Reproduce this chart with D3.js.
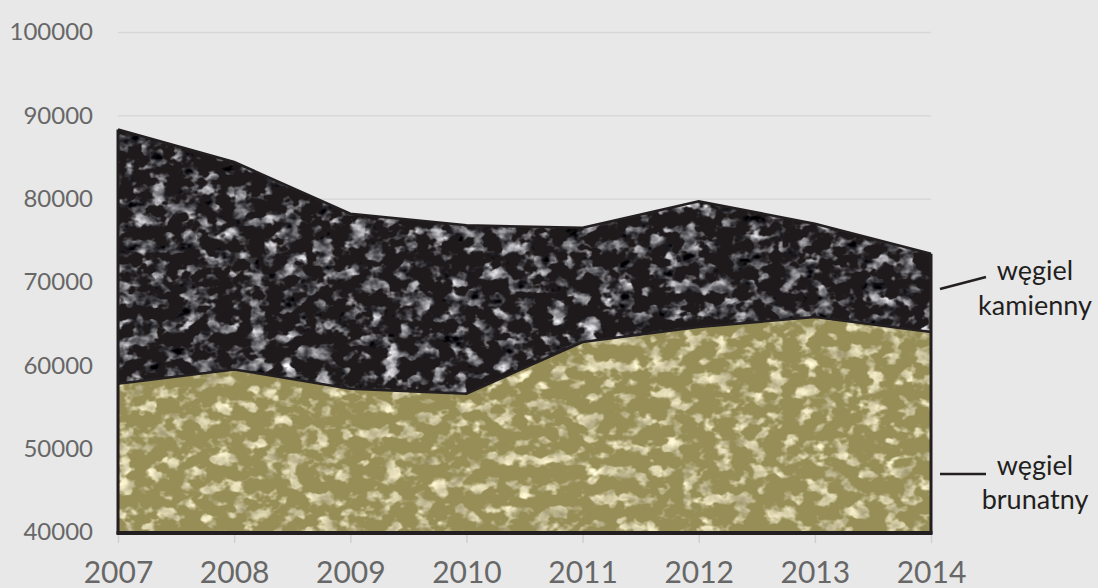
<!DOCTYPE html>
<html>
<head>
<meta charset="utf-8">
<script src="https://cdn.jsdelivr.net/npm/d3@7"></script>
<style>
  body { margin: 0; background: #e8e8e8; }
  text { font-family: Lato, "Open Sans", sans-serif; }
</style>
</head>
<body>
<div id="chart"></div>
<script>
var svgWidth = 1098;
var svgHeight = 588;

// data
var years = [2007, 2008, 2009, 2010, 2011, 2012, 2013, 2014];
var kamienny = [88300, 84400, 78200, 76800, 76500, 79700, 77000, 73400];
var brunatny = [57800, 59500, 57200, 56600, 62800, 64600, 65800, 64000];
var yTicks = [40000, 50000, 60000, 70000, 80000, 90000, 100000];
var seriesLabels = [["węgiel", "kamienny"], ["węgiel", "brunatny"]];

var rows = years.map(function(yr, i) {
  return { year: yr, kamienny: kamienny[i], brunatny: brunatny[i] };
});

var svg = d3.select("#chart")
  .append("svg")
  .attr("width", svgWidth)
  .attr("height", svgHeight);

svg.append("rect")
  .attr("width", svgWidth)
  .attr("height", svgHeight)
  .attr("fill", "#e8e8e8");

var x = d3.scaleLinear().domain([2007, 2014]).range([118, 931]);
var y = d3.scaleLinear().domain([40000, 100000]).range([532, 32]);

// textures: noise chips clipped into each area
var defs = svg.append("defs");

function texture(id, freq, seed, colorRows, alphaRow) {
  var f = defs.append("filter")
    .attr("id", id)
    .attr("x", 0).attr("y", 0).attr("width", 1).attr("height", 1)
    .attr("color-interpolation-filters", "sRGB");
  f.append("feTurbulence")
    .attr("type", "fractalNoise")
    .attr("baseFrequency", freq)
    .attr("numOctaves", 3)
    .attr("seed", seed)
    .attr("result", "n");
  f.append("feColorMatrix")
    .attr("in", "n")
    .attr("type", "matrix")
    .attr("values", colorRows + " " + alphaRow)
    .attr("result", "chips");
  f.append("feComposite")
    .attr("in", "chips").attr("in2", "SourceGraphic")
    .attr("operator", "in").attr("result", "clip");
  var m = f.append("feMerge");
  m.append("feMergeNode").attr("in", "SourceGraphic");
  m.append("feMergeNode").attr("in", "clip");
}

texture("texDark", "0.06 0.075", 4,
  "0 1.6 0 0 -0.38  0 1.6 0 0 -0.38  0 1.6 0 0 -0.36",
  "7 0 0 0 -3.35");
texture("texOlive", "0.06 0.075", 11,
  "0 0.55 0 0 0.56  0 0.55 0 0 0.53  0 0.55 0 0 0.38",
  "6 0 0 0 -3.05");

// gridlines + y labels
var leftAxis = d3.axisLeft(y)
  .tickValues(yTicks)
  .tickFormat(d3.format("d"))
  .tickSizeInner(-(931 - 118))
  .tickSizeOuter(0)
  .tickPadding(25);

var yAxis = svg.append("g")
  .attr("transform", "translate(118,0)")
  .call(leftAxis);
yAxis.select(".domain").remove();
yAxis.selectAll("line").attr("stroke", "#d8d8d8").attr("stroke-width", 1.5);
yAxis.selectAll("text")
  .attr("fill", "#676767")
  .style("font-size", "24px");

// x axis
var bottomAxis = d3.axisBottom(x)
  .tickValues(years)
  .tickFormat(d3.format("d"))
  .tickSizeInner(11)
  .tickSizeOuter(0)
  .tickPadding(19);

var xAxis = svg.append("g")
  .attr("transform", "translate(0,532)")
  .call(bottomAxis);
xAxis.select(".domain").remove();
xAxis.selectAll("line").attr("stroke", "#d0d0d0").attr("stroke-width", 1.5);
xAxis.selectAll("text")
  .attr("fill", "#676767")
  .style("font-size", "30px");

// areas
var areaK = d3.area()
  .x(d => x(d.year))
  .y0(y(40000))
  .y1(d => y(d.kamienny));

var areaB = d3.area()
  .x(d => x(d.year))
  .y0(y(40000))
  .y1(d => y(d.brunatny));

svg.append("path")
  .datum(rows)
  .attr("d", areaK)
  .attr("fill", "#1e1a1c")
  .attr("filter", "url(#texDark)");

svg.append("path")
  .datum(rows)
  .attr("d", areaB)
  .attr("fill", "#968d57")
  .attr("filter", "url(#texOlive)");

// outlines
var lineK = d3.line().x(d => x(d.year)).y(d => y(d.kamienny));
var lineB = d3.line().x(d => x(d.year)).y(d => y(d.brunatny));

svg.append("path")
  .datum(rows)
  .attr("d", lineK)
  .attr("fill", "none")
  .attr("stroke", "#231f20")
  .attr("stroke-width", 2.5);

svg.append("path")
  .datum(rows)
  .attr("d", lineB)
  .attr("fill", "none")
  .attr("stroke", "#231f20")
  .attr("stroke-width", 2.5);

var first = rows[0], last = rows[rows.length - 1];

svg.append("line")
  .attr("x1", x(first.year)).attr("x2", x(first.year))
  .attr("y1", y(40000) + 2).attr("y2", y(first.kamienny))
  .attr("stroke", "#231f20").attr("stroke-width", 3);

svg.append("line")
  .attr("x1", x(last.year)).attr("x2", x(last.year))
  .attr("y1", y(40000) + 2).attr("y2", y(last.kamienny))
  .attr("stroke", "#231f20").attr("stroke-width", 3);

svg.append("line")
  .attr("x1", x(first.year) - 1.5).attr("x2", x(last.year) + 1.5)
  .attr("y1", y(40000) + 1).attr("y2", y(40000) + 1)
  .attr("stroke", "#231f20").attr("stroke-width", 4);

// series labels with leader lines
var labelX = 1035;
var labelPos = [
  { lines: seriesLabels[0], y1: 280, y2: 315, from: [940, 289], to: [986, 277] },
  { lines: seriesLabels[1], y1: 475, y2: 509, from: [940, 474], to: [986, 474] }
];

labelPos.forEach(function(l) {
  svg.append("line")
    .attr("x1", l.from[0]).attr("y1", l.from[1])
    .attr("x2", l.to[0]).attr("y2", l.to[1])
    .attr("stroke", "#231f20").attr("stroke-width", 2.5);
  svg.append("text")
    .attr("x", labelX).attr("y", l.y1)
    .attr("text-anchor", "middle")
    .attr("fill", "#231f20")
    .style("font-size", "27px")
    .text(l.lines[0]);
  svg.append("text")
    .attr("x", labelX).attr("y", l.y2)
    .attr("text-anchor", "middle")
    .attr("fill", "#231f20")
    .style("font-size", "27px")
    .text(l.lines[1]);
});
</script>
</body>
</html>
